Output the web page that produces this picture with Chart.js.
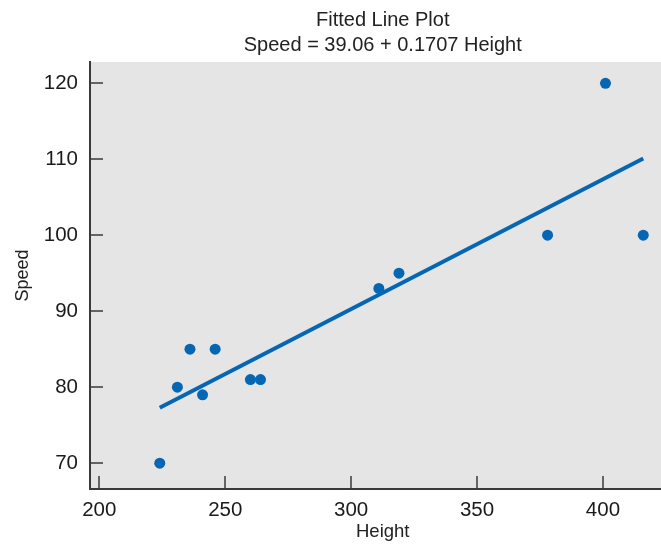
<!DOCTYPE html>
<html>
<head>
<meta charset="utf-8">
<script src="https://cdn.jsdelivr.net/npm/chart.js@4.4.1/dist/chart.umd.min.js"></script>
<style>
  html, body { margin: 0; padding: 0; overflow: hidden; background: #fff; }
  #wrap { width: 681px; height: 544px; }
</style>
</head>
<body>
<div id="wrap"><canvas id="fitChart" width="681" height="544"></canvas></div>
<script>
// Data
const heights = [224, 231, 236, 241, 246, 260, 264, 311, 319, 378, 401, 416];
const speeds = [70, 80, 85, 79, 85, 81, 81, 93, 95, 100, 120, 100];

// Fitted line end points (Speed = 39.06 + 0.1707 Height)
const fitHeights = [224, 416];
const fitSpeeds = [77.3, 110.1];

const xTicks = [200, 250, 300, 350, 400];
const yTicks = [70, 80, 90, 100, 110, 120];
const titleLines = ['Fitted Line Plot', 'Speed = 39.06 + 0.1707 Height'];

const blue = '#0567b3';
const axisColor = '#3a3a3a';
const fontFamily = '"Liberation Sans", Arial, sans-serif';

// gray plot background + inward tick marks + two-line title
const plotDecor = {
    id: 'plotDecor',
    beforeDraw(chart) {
        const { ctx, chartArea } = chart;
        ctx.save();
        ctx.fillStyle = '#e5e5e5';
        ctx.fillRect(chartArea.left, chartArea.top, chartArea.right - chartArea.left, chartArea.bottom - chartArea.top);
        ctx.restore();
    },
    afterDatasetsDraw(chart) {
        const { ctx, chartArea, scales } = chart;
        ctx.save();
        ctx.strokeStyle = axisColor;
        ctx.lineWidth = 1.5;
        ctx.beginPath();
        xTicks.forEach(v => {
            const px = Math.round(scales.x.getPixelForValue(v));
            ctx.moveTo(px, chartArea.bottom);
            ctx.lineTo(px, chartArea.bottom - 13);
        });
        yTicks.forEach(v => {
            const py = Math.round(scales.y.getPixelForValue(v));
            ctx.moveTo(chartArea.left, py);
            ctx.lineTo(chartArea.left + 13, py);
        });
        ctx.stroke();

        // title centred over the plot area
        const cx = (chartArea.left + chartArea.right) / 2;
        ctx.fillStyle = '#222';
        ctx.font = '20px ' + fontFamily;
        ctx.textAlign = 'center';
        ctx.textBaseline = 'middle';
        ctx.fillText(titleLines[0], cx, 20);
        ctx.fillText(titleLines[1], cx, 45);
        ctx.restore();
    }
};

const ctx = document.getElementById('fitChart').getContext('2d');
const fitChart = new Chart(ctx, {
    data: {
        datasets: [{
            type: 'scatter',
            data: heights.map((h, i) => ({ x: h, y: speeds[i] })),
            backgroundColor: blue,
            borderColor: blue,
            pointRadius: 5.5,
            pointHoverRadius: 5.5,
            borderWidth: 0,
            order: 1
        }, {
            type: 'line',
            data: fitHeights.map((h, i) => ({ x: h, y: fitSpeeds[i] })),
            borderColor: blue,
            borderWidth: 4,
            pointRadius: 0,
            fill: false,
            order: 2
        }]
    },
    options: {
        responsive: false,
        animation: false,
        layout: { padding: { top: 62, left: 0, right: 1, bottom: 0 } },
        plugins: {
            legend: { display: false },
            tooltip: { enabled: false }
        },
        scales: {
            x: {
                type: 'linear',
                min: 196.3,
                max: 428.8,
                afterBuildTicks: axis => { axis.ticks = xTicks.map(v => ({ value: v })); },
                afterFit: axis => { axis.height = 55; },
                grid: { display: false, drawTicks: false },
                border: { display: true, color: axisColor, width: 2 },
                ticks: {
                    color: '#1a1a1a',
                    padding: 9,
                    maxRotation: 0,
                    font: { family: fontFamily, size: 20.5 }
                },
                title: {
                    display: true,
                    text: 'Height',
                    color: '#222',
                    padding: { top: 0, bottom: 1 },
                    font: { family: fontFamily, size: 18.5 }
                }
            },
            y: {
                type: 'linear',
                min: 66.6,
                max: 122.8,
                afterBuildTicks: axis => { axis.ticks = yTicks.map(v => ({ value: v })); },
                afterFit: axis => { axis.width = 90; },
                grid: { display: false, drawTicks: false },
                border: { display: true, color: axisColor, width: 2 },
                ticks: {
                    color: '#1a1a1a',
                    padding: 12,
                    font: { family: fontFamily, size: 20.5 }
                },
                title: {
                    display: true,
                    text: 'Speed',
                    color: '#222',
                    padding: { top: 12, bottom: 0 },
                    font: { family: fontFamily, size: 18 }
                }
            }
        }
    },
    plugins: [plotDecor]
});
</script>
</body>
</html>
